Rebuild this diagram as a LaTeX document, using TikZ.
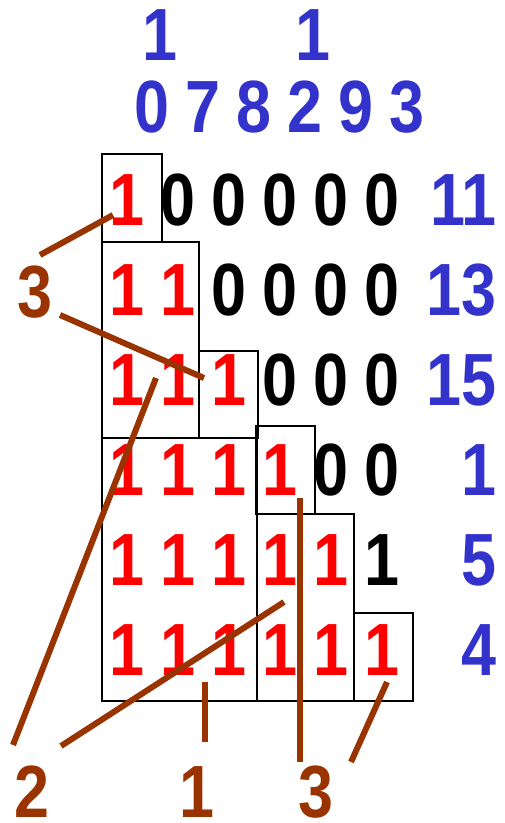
\documentclass[tikz,border=0pt]{standalone}
\usepackage{fontspec}
\newfontfamily\numfont[FakeStretch=0.85]{Liberation Sans}
\usetikzlibrary{positioning}
\definecolor{hdrblue}{RGB}{51,51,204}
\definecolor{markred}{RGB}{255,0,0}
\definecolor{tagbrown}{RGB}{153,51,0}
\tikzset{
  digit/.style={inner sep=0pt, font=\numfont\bfseries\fontsize{74}{74}\selectfont},
  one/.style={digit, text=markred},
  zero/.style={digit, text=black},
  hdr/.style={digit, text=hdrblue},
  tag/.style={digit, text=tagbrown},
  cell/.style={draw=black, line width=1.5pt},
  pointer/.style={draw=tagbrown, line width=6pt},
}
\begin{document}
\begin{tikzpicture}[x=1pt, y=-1pt]
  \useasboundingbox (0,0) rectangle (504,823);

  % column header
  \node[hdr] (top-1) at (160,35) {1};
  \node[hdr] (top-2) at (313,35) {1};
  \foreach \v [count=\j] in {0,7,8,2,9,3}
    \node[hdr] (h-\j) at ({101+51*\j},107) {\v};

  % matrix
  \foreach \digits [count=\i] in {{1,0,0,0,0,0},{1,1,0,0,0,0},{1,1,1,0,0,0},
                                   {1,1,1,1,0,0},{1,1,1,1,1,1},{1,1,1,1,1,1}}{
    \foreach \d [count=\j] in \digits {
      \ifnum\j>\i \def\sty{zero}\else\def\sty{one}\fi
      \node[\sty] (m-\i-\j) at ({76+51*\j},{110+90*\i}) {\d};
    }
  }

  % row values
  \foreach \v [count=\i] in {11,13,15,1,5,4}
    \node[hdr, anchor=east] (w-\i) at (497,{110+90*\i}) {\v};

  % blocks
  \draw[cell] (102,154) rectangle (162,242);
  \draw[cell] (102,242) rectangle (199,438);
  \draw[cell] (199,351) rectangle (258,438);
  \draw[cell] (102,438) rectangle (257,701);
  \draw[cell] (256,426) rectangle (315,514);
  \draw[cell] (257,514) rectangle (354,701);
  \draw[cell] (354,613) rectangle (413,701);

  % block sizes
  \node[tag] (lthree) at (35,292) {3};
  \node[tag] (ltwo)   at (32,792) {2};
  \node[tag] (lone)   at (197,792) {1};
  \node[tag] (rthree) at (316,792) {3};

  \coordinate (p1) at (40,255);   \coordinate (q1) at (113,215);
  \coordinate (p2) at (60,315);   \coordinate (q2) at (204,378);
  \coordinate (p3) at (13,745);   \coordinate (q3) at (156,378);
  \coordinate (p4) at (61,746);   \coordinate (q4) at (284,602);
  \coordinate (p5) at (205,742);  \coordinate (q5) at (205,682);
  \coordinate (p6) at (300,762);  \coordinate (q6) at (300,498);
  \coordinate (p7) at (351,762);  \coordinate (q7) at (387,682);

  \draw[pointer] (p1) -- (q1);
  \draw[pointer] (p2) -- (q2);
  \draw[pointer] (p3) -- (q3);
  \draw[pointer] (p4) -- (q4);
  \draw[pointer] (p5) -- (q5);
  \draw[pointer] (p6) -- (q6);
  \draw[pointer] (p7) -- (q7);

\end{tikzpicture}
\end{document}
